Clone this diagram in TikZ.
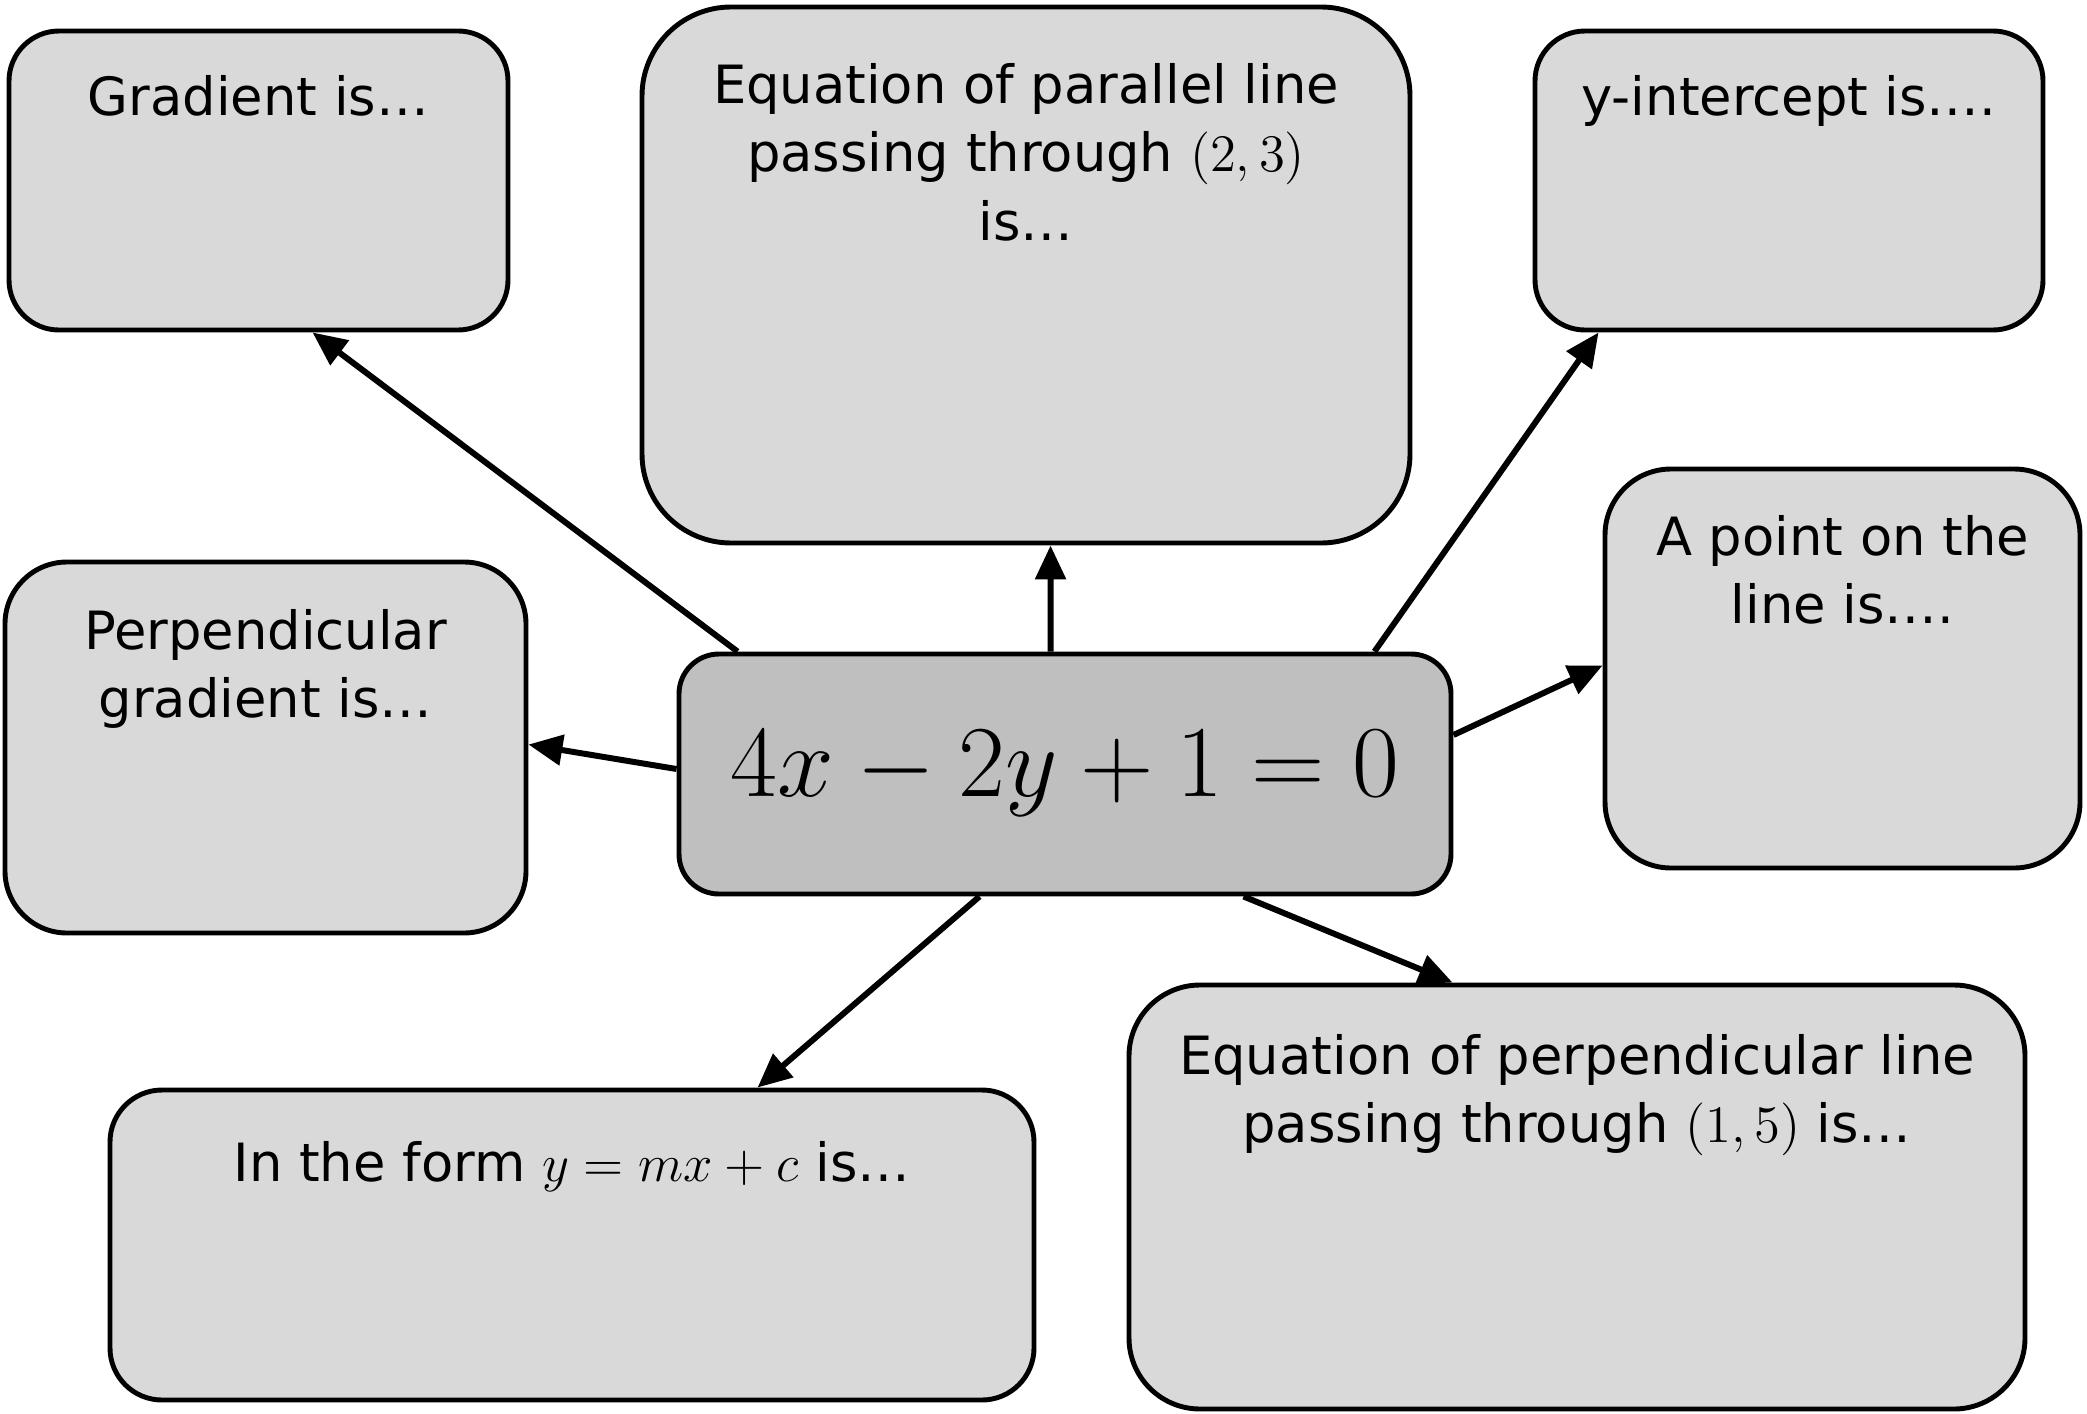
\RequirePackage{fix-cm}
\documentclass[tikz,border=0pt]{standalone}
\usepackage{fontspec}
\setmainfont{DejaVu Sans}
\usepackage{xcolor}
\usepackage{amsmath}
\usepackage{tikz}
\usetikzlibrary{positioning,arrows.meta}

\definecolor{boxgrey}{HTML}{D9D9D9}
\definecolor{midgrey}{HTML}{BFBFBF}

\tikzset{
    card/.style={draw, line width=1.4pt, fill=boxgrey, rounded corners=#1},
    lbl/.style={align=center, inner sep=0pt, anchor=north, font=\fontsize{15}{19.5}\selectfont},
    arr/.style={-{Triangle[length=0.34cm,width=0.3cm]}, line width=1.7pt}
}

\begin{document}
\begin{tikzpicture}

    \useasboundingbox (0,0) rectangle (20.87,14.13);

    % Equacao central
    \node[card=0.4cm, fill=midgrey, minimum width=7.72cm, minimum height=2.40cm,
          font=\fontsize{29}{35}\selectfont] (eqn) at (10.65,6.39) {$4x-2y+1=0$};

    % Caixas de resposta
    \node[card=0.5cm, minimum width=4.99cm, minimum height=2.99cm] (grad) at (2.585,12.325) {};
    \node[card=0.89cm, minimum width=7.68cm, minimum height=5.36cm] (par) at (10.26,11.38) {};
    \node[card=0.5cm, minimum width=5.08cm, minimum height=2.99cm] (yint) at (17.89,12.325) {};
    \node[card=0.66cm, minimum width=4.75cm, minimum height=3.99cm] (point) at (18.425,7.445) {};
    \node[card=0.62cm, minimum width=5.21cm, minimum height=3.71cm] (pgrad) at (2.655,6.655) {};
    \node[card=0.52cm, minimum width=9.24cm, minimum height=3.10cm] (form) at (5.72,1.68) {};
    \node[card=0.71cm, minimum width=8.96cm, minimum height=4.24cm] (perp) at (15.77,2.16) {};

    % Textos das caixas
    \node[lbl] (gradtxt) at ([yshift=-0.46cm]grad.north) {Gradient is…};
    \node[lbl] (partxt) at ([yshift=-0.58cm]par.north) {Equation of parallel line\\ passing through $(2,3)$\\ is…};
    \node[lbl] (yinttxt) at ([yshift=-0.46cm]yint.north) {y-intercept is….};
    \node[lbl] (pointtxt) at ([yshift=-0.48cm]point.north) {A point on the\\ line is….};
    \node[lbl] (pgradtxt) at ([yshift=-0.49cm]pgrad.north) {Perpendicular\\ gradient is…};
    \node[lbl] (formtxt) at ([yshift=-0.53cm]form.north) {In the form $y=mx+c$ is…};
    \node[lbl] (perptxt) at ([yshift=-0.51cm]perp.north) {Equation of perpendicular line\\ passing through $(1,5)$ is…};

    % Setas saindo da equacao
    \draw[arr] ([xshift=0.61cm]eqn.north west) -- ([xshift=3.06cm]grad.south west);
    \draw[arr] ([xshift=3.74cm]eqn.north west) -- ([xshift=4.11cm]par.south west);
    \draw[arr] ([xshift=-0.79cm]eqn.north east) -- ([xshift=0.66cm]yint.south west);
    \draw[arr] ([yshift=0.39cm]eqn.east) -- ([yshift=0.03cm]point.west);
    \draw[arr] ([yshift=0.05cm]eqn.west) -- ([yshift=0.03cm]pgrad.east);
    \draw[arr] ([xshift=3.03cm]eqn.south west) -- ([xshift=6.50cm]form.north west);
    \draw[arr] ([xshift=5.67cm]eqn.south west) -- ([xshift=3.26cm]perp.north west);

\end{tikzpicture}
\end{document}
